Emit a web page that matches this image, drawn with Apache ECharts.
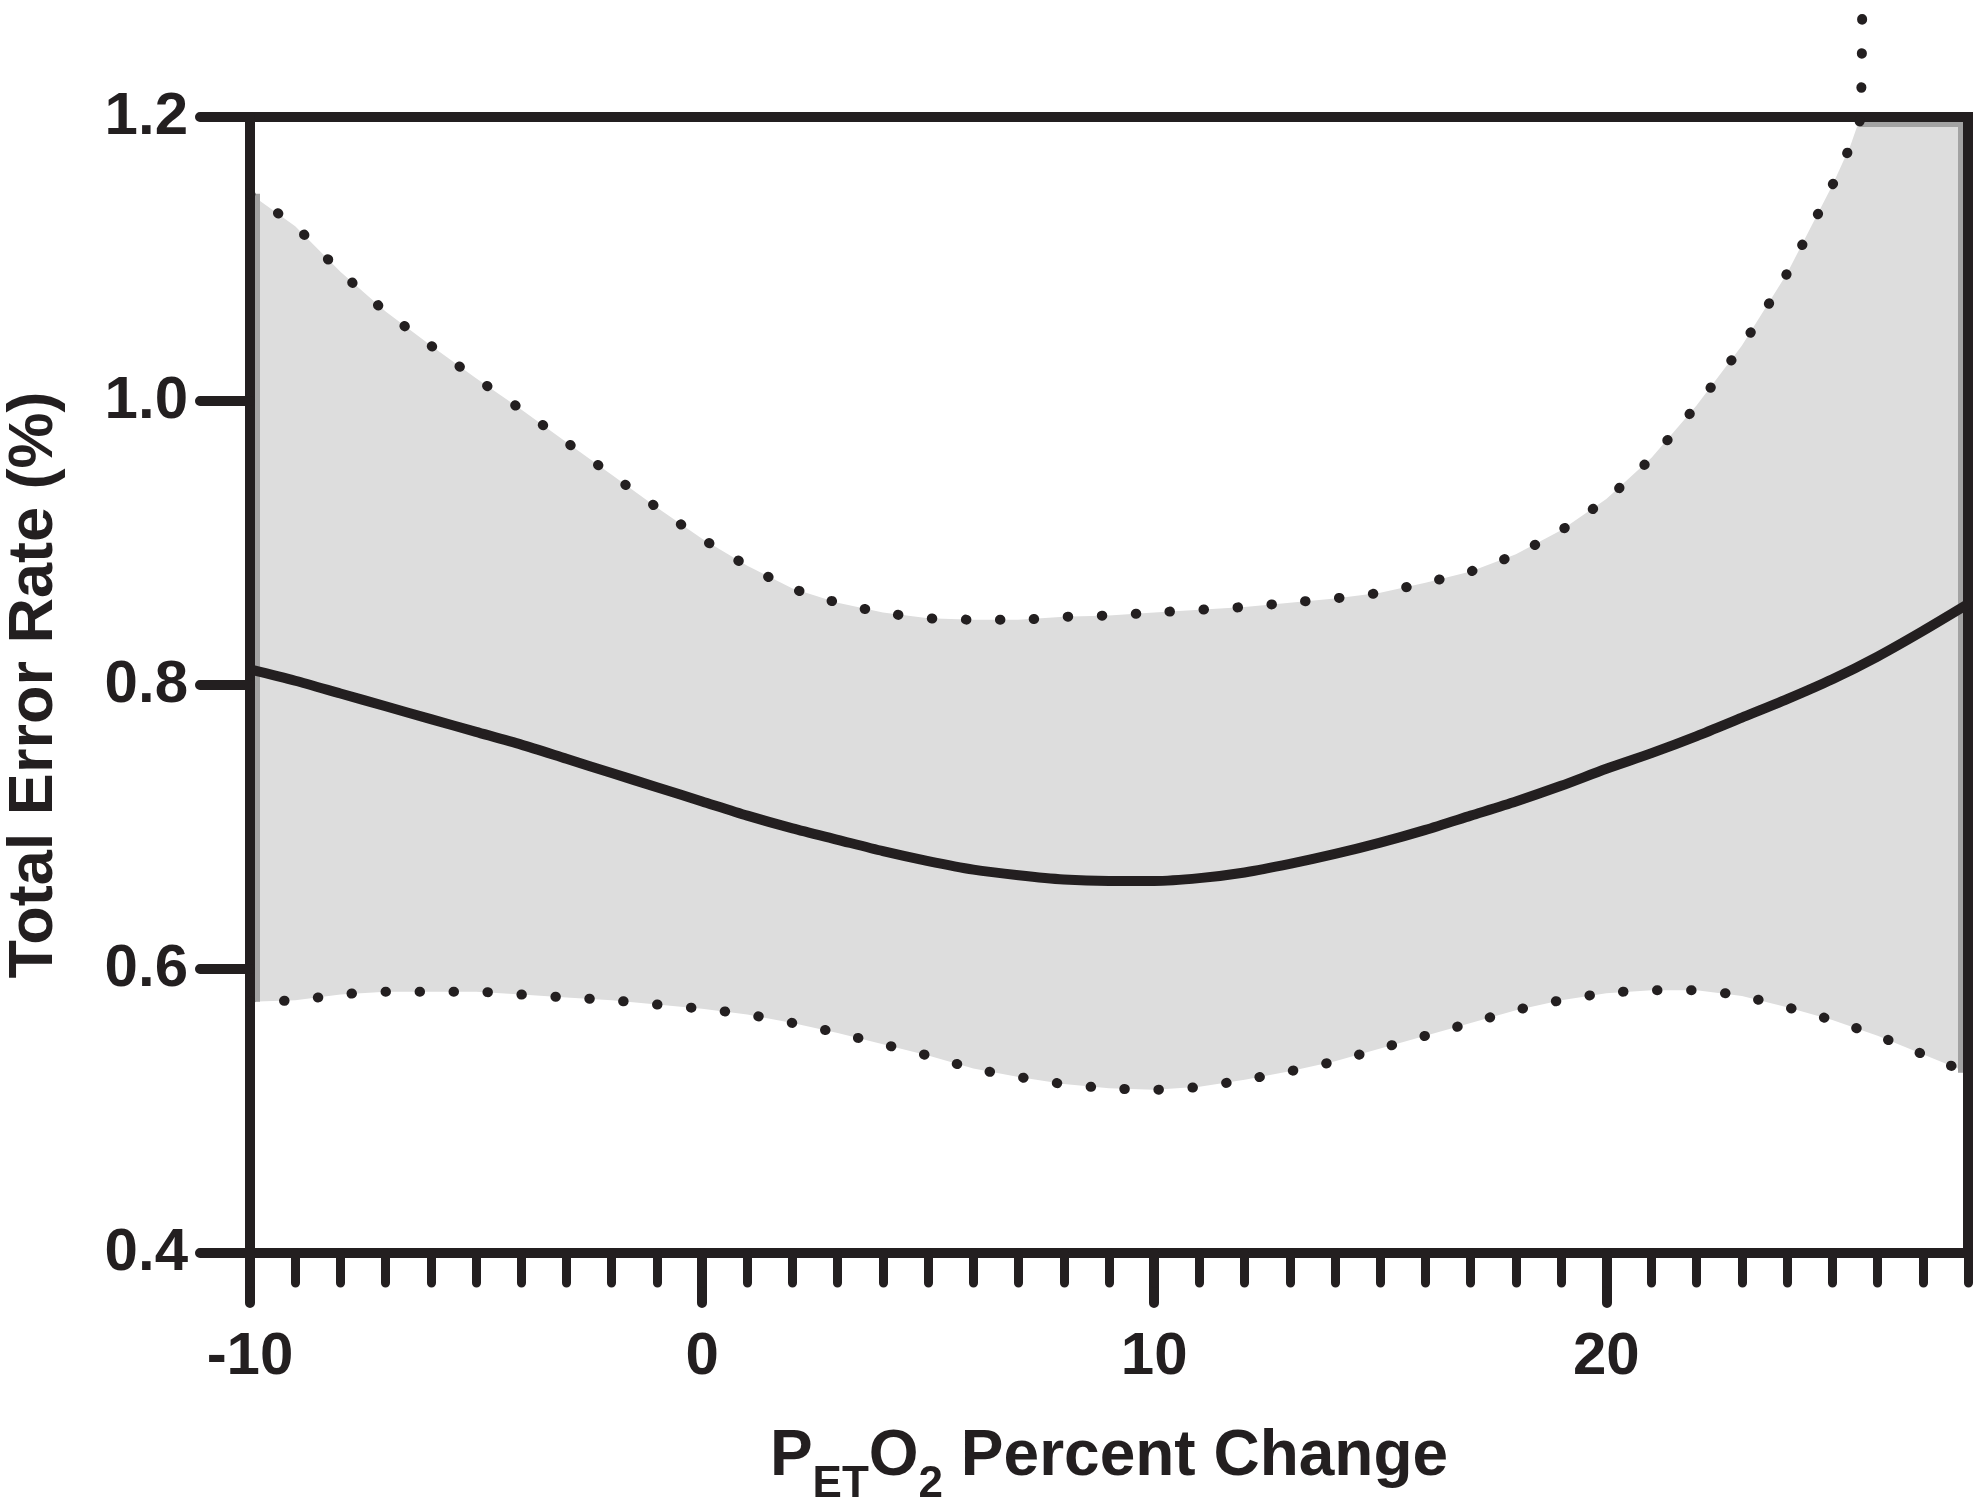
<!DOCTYPE html>
<html style="height: 100%">
    <head>
        <meta charset="utf-8">
    </head>
    <body style="height: 100%; margin: 0; background: #fff">
        <div id="container" style="width: 1983px; height: 1499px"></div>

        <script type="text/javascript" src="https://cdn.jsdelivr.net/npm/echarts@6/dist/echarts.min.js"></script>
        <script type="text/javascript">
// x positions shared by the fitted curve and the lower bound
var fitX = [-10, -9, -8, -7, -6, -5, -4, -3, -2, -1, 0, 1, 2, 3, 4, 5, 6, 7, 8, 9,
    10, 11, 12, 13, 14, 15, 16, 17, 18, 19, 20, 21, 22, 23, 24, 25, 26, 27, 28];
var fitY = [0.811, 0.803, 0.794, 0.785, 0.776, 0.767, 0.758, 0.748, 0.738, 0.728,
    0.718, 0.708, 0.699, 0.691, 0.683, 0.676, 0.670, 0.666, 0.663, 0.662,
    0.662, 0.664, 0.668, 0.674, 0.681, 0.689, 0.698, 0.708, 0.718, 0.729,
    0.741, 0.752, 0.764, 0.777, 0.790, 0.804, 0.820, 0.838, 0.857];
var lowerY = [0.577, 0.578, 0.582, 0.584, 0.584, 0.584, 0.582, 0.580, 0.578, 0.575,
    0.572, 0.568, 0.562, 0.555, 0.547, 0.539, 0.530, 0.524, 0.519, 0.516,
    0.515, 0.517, 0.522, 0.528, 0.535, 0.544, 0.553, 0.562, 0.571, 0.578,
    0.583, 0.585, 0.585, 0.581, 0.573, 0.564, 0.553, 0.540, 0.527];
// upper bound leaves the plot near x = 25.6
var upperX = [-10, -9, -8, -7, -6, -5, -4, -3, -2, -1, 0, 1, 2, 3, 4, 5, 6, 7, 8, 9,
    10, 11, 12, 13, 14, 15, 16, 17, 18, 19, 20, 21, 22, 23, 24, 25, 25.4, 25.62, 25.66];
var upperY = [1.146, 1.123, 1.091, 1.063, 1.039, 1.016, 0.994, 0.971, 0.948, 0.925,
    0.903, 0.884, 0.868, 0.858, 0.851, 0.847, 0.846, 0.846, 0.848, 0.849,
    0.851, 0.853, 0.855, 0.858, 0.861, 0.865, 0.872, 0.880, 0.892, 0.909,
    0.931, 0.960, 0.997, 1.039, 1.090, 1.152, 1.180, 1.200, 1.290];

var xMajorTicks = [-10, 0, 10, 20];
var X_MIN = -10, X_MAX = 28, Y_MIN = 0.4, Y_MAX = 1.2;

var INK = '#231f20';
var FONT = "'Liberation Sans', Arial, sans-serif";

function pairs(xs, ys) {
    var out = [];
    for (var i = 0; i < xs.length; i++) {
        out.push([xs[i], ys[i]]);
    }
    return out;
}

var dom = document.getElementById('container');
var myChart = echarts.init(dom, null, { renderer: 'canvas' });

// shaded confidence band, cut off at the top of the plot
function renderBand(params, api) {
    var pts = [];
    var clampStart = null;
    for (var i = 0; i < upperX.length; i++) {
        var v = Math.min(upperY[i], Y_MAX);
        var p = api.coord([upperX[i], v]);
        if (v >= Y_MAX && !clampStart) {
            clampStart = p;
        }
        pts.push(p);
    }
    var corner = api.coord([X_MAX, Y_MAX]);
    pts.push(corner);
    for (var j = fitX.length - 1; j >= 0; j--) {
        pts.push(api.coord([fitX[j], lowerY[j]]));
    }
    // thin darker rim just inside the frame, as in the original
    var d = 7.5;
    var lt = api.coord([X_MIN, upperY[0]]);
    var lb = api.coord([X_MIN, lowerY[0]]);
    var rb = api.coord([X_MAX, lowerY[lowerY.length - 1]]);
    var cs = clampStart || corner;
    var edge = { stroke: '#a3a3a3', lineWidth: 5, fill: null };
    return {
        type: 'group',
        children: [{
            type: 'polygon',
            shape: { points: pts },
            style: { fill: '#dddddd' }
        }, {
            type: 'polyline',
            shape: { points: [[lb[0] + d, lb[1]], [lt[0] + d, lt[1]]] },
            style: edge
        }, {
            type: 'polyline',
            shape: { points: [[cs[0], cs[1] + d], [corner[0] - d, corner[1] + d], [rb[0] - d, rb[1]]] },
            style: edge
        }]
    };
}

var option = {
    animation: false,
    grid: {
        left: 250,
        right: 15,
        top: 117,
        bottom: 246,
        containLabel: false,
        outerBoundsMode: 'none',
        show: true,
        borderColor: INK,
        borderWidth: 10,
        backgroundColor: 'transparent'
    },
    xAxis: [{
        type: 'value',
        min: X_MIN,
        max: X_MAX,
        interval: 10,
        name: '{n|P}{s|ET}{n|O}{s|2}{n| Percent Change}',
        nameLocation: 'middle',
        nameGap: 172,
        nameTextStyle: {
            rich: {
                n: { fontFamily: FONT, fontWeight: 'bold', fontSize: 64, color: INK, lineHeight: 74, verticalAlign: 'top' },
                s: { fontFamily: FONT, fontWeight: 'bold', fontSize: 44, color: INK, lineHeight: 44, verticalAlign: 'top', padding: [38, 0, 0, 0] }
            }
        },
        axisLine: { onZero: false, lineStyle: { color: INK, width: 10, cap: 'round' } },
        axisTick: {
            customValues: xMajorTicks,
            length: 50,
            lineStyle: { color: INK, width: 10, cap: 'round' }
        },
        axisLabel: {
            customValues: xMajorTicks,
            margin: 74,
            fontFamily: FONT,
            fontWeight: 'bold',
            fontSize: 60,
            color: INK
        },
        splitLine: { show: false }
    }, {
        // minor ticks every 1 unit
        type: 'value',
        position: 'bottom',
        min: X_MIN,
        max: X_MAX,
        interval: 1,
        axisLine: { show: false, onZero: false },
        axisTick: {
            length: 30,
            lineStyle: { color: INK, width: 9, cap: 'round' }
        },
        axisLabel: { show: false },
        splitLine: { show: false }
    }],
    yAxis: {
        type: 'value',
        min: Y_MIN,
        max: Y_MAX,
        interval: 0.2,
        name: 'Total Error Rate (%)',
        nameLocation: 'middle',
        nameGap: 184,
        nameTextStyle: {
            fontFamily: FONT,
            fontWeight: 'bold',
            fontSize: 63,
            color: INK
        },
        axisLine: { show: true, onZero: false, lineStyle: { color: INK, width: 10, cap: 'round' } },
        axisTick: {
            show: true,
            length: 50,
            lineStyle: { color: INK, width: 10, cap: 'round' }
        },
        axisLabel: {
            margin: 62,
            fontFamily: FONT,
            fontWeight: 'bold',
            fontSize: 60,
            color: INK,
            formatter: function (v) { return v.toFixed(1); }
        },
        splitLine: { show: false }
    },
    series: [{
        type: 'custom',
        name: 'band',
        zlevel: -1,
        silent: true,
        renderItem: renderBand,
        data: [[X_MIN, Y_MIN]]
    }, {
        type: 'line',
        name: 'upper',
        data: pairs(upperX, upperY),
        showSymbol: false,
        smooth: 0.25,
        clip: false,
        lineStyle: { color: INK, width: 10, type: [0.5, 33.5], cap: 'round' }
    }, {
        type: 'line',
        name: 'lower',
        data: pairs(fitX, lowerY),
        showSymbol: false,
        smooth: 0.25,
        lineStyle: { color: INK, width: 10, type: [0.5, 33.5], cap: 'round' }
    }, {
        type: 'line',
        name: 'fit',
        data: pairs(fitX, fitY),
        showSymbol: false,
        smooth: 0.25,
        lineStyle: { color: INK, width: 10 }
    }]
};

if (option && typeof option === 'object') {
    myChart.setOption(option);
}
        </script>
    </body>
</html>
